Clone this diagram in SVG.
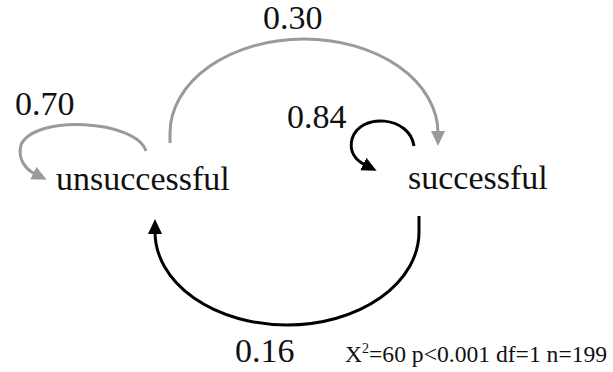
<svg xmlns="http://www.w3.org/2000/svg" width="613" height="372" viewBox="0 0 613 372">
  <style>
    text { font-family: "Liberation Serif", Tinos, "Times New Roman", serif; fill: #111; }
    .node { font-size: 34px; }
    .lbl { font-size: 34px; }
    .stat { font-size: 23.6px; }
    .gray { fill: none; stroke: #9a9a9a; stroke-width: 3; }
    .black { fill: none; stroke: #000; stroke-width: 3; }
  </style>
  <defs>
    <marker id="ah-gray" markerUnits="userSpaceOnUse" markerWidth="18" markerHeight="18" viewBox="0 0 18 18" refX="2" refY="8" orient="auto">
      <path d="M0,1 L15,8 L0,15 z" fill="#9a9a9a"/>
    </marker>
    <marker id="ah-black" markerUnits="userSpaceOnUse" markerWidth="18" markerHeight="18" viewBox="0 0 18 18" refX="2" refY="8" orient="auto">
      <path d="M0,1 L15,8 L0,15 z" fill="#000"/>
    </marker>
  </defs>

  <g id="node-unsuccessful">
    <text class="node" x="56" y="190">unsuccessful</text>
  </g>
  <g id="node-successful">
    <text class="node" x="408" y="189">successful</text>
  </g>

  <g id="connectors">
    <path class="gray" d="M146,151 C136,120 34,114 21,145 C17,160 27,170 35,174" marker-end="url(#ah-gray)"/>
    <path class="gray" d="M170,143 L170,133 A134,94 0 0 1 438,133" marker-end="url(#ah-gray)"/>
    <path class="black" d="M414,146 C410,116 360,112 352,139 C349,151 355,160 365,165" marker-end="url(#ah-black)"/>
    <path class="black" d="M419,216 L419,232 A132,93 0 0 1 155,232" marker-end="url(#ah-black)"/>
  </g>

  <g id="labels">
    <text class="lbl" x="15" y="115">0.70</text>
    <text class="lbl" x="263" y="29">0.30</text>
    <text class="lbl" x="287" y="128">0.84</text>
    <text class="lbl" x="235" y="362">0.16</text>
    <text class="stat" x="345" y="362">X<tspan font-size="14" dy="-9">2</tspan><tspan dy="9">=60 p&lt;0.001 df=1 n=199</tspan></text>
  </g>
</svg>
